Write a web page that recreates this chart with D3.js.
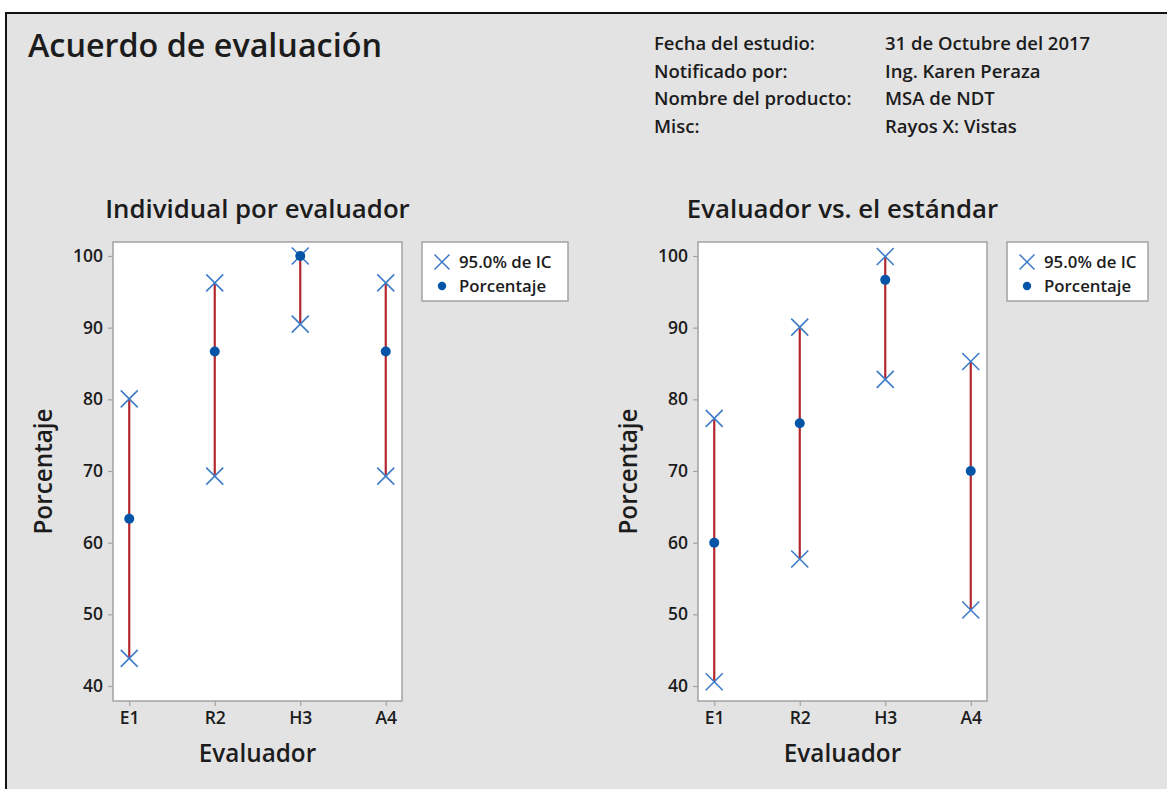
<!DOCTYPE html>
<html>
<head>
<meta charset="utf-8">
<script src="https://cdn.jsdelivr.net/npm/d3@7"></script>
<style>
  html, body { margin: 0; padding: 0; background: #ffffff; }
  svg { display: block; }
  text { font-family: "Open Sans", "Noto Sans", sans-serif; fill: #1c1c1c; font-weight: 600; }
</style>
</head>
<body>
<svg id="chart" width="1167" height="789"></svg>
<script>
// Attribute agreement analysis: 30 trials per appraiser
const appraisers = ["E1", "R2", "H3", "A4"];

// Within appraisers
const withinPct   = [63.33, 86.67, 100.0, 86.67];
const withinLower = [43.86, 69.28, 90.50, 69.28];
const withinUpper = [80.07, 96.24, 100.0, 96.24];

// Each appraiser vs standard
const vsStdPct   = [60.00, 76.67, 96.67, 70.00];
const vsStdLower = [40.60, 57.72, 82.78, 50.60];
const vsStdUpper = [77.34, 90.07, 99.92, 85.27];

const yTicks = [40, 50, 60, 70, 80, 90, 100];

const headerLabels = ["Fecha del estudio:", "Notificado por:", "Nombre del producto:", "Misc:"];
const headerValues = ["31 de Octubre del 2017", "Ing. Karen Peraza", "MSA de NDT", "Rayos X: Vistas"];

const legendLabels = ["95.0% de IC", "Porcentaje"];

const RED = "#b3262d", XBLUE = "#3f7cc8", DOT = "#0455a8";

const svg = d3.select("#chart");

// Page background with frame on top and left
svg.append("rect").attr("x", 6).attr("y", 13).attr("width", 1161).attr("height", 776).attr("fill", "#e3e3e3");
svg.append("line").attr("x1", 6).attr("x2", 1167).attr("y1", 13).attr("y2", 13).attr("stroke", "#111").attr("stroke-width", 2);
svg.append("line").attr("x1", 6).attr("x2", 6).attr("y1", 12).attr("y2", 789).attr("stroke", "#111").attr("stroke-width", 2);

svg.append("text").attr("x", 28).attr("y", 57).attr("font-size", 32.3).text("Acuerdo de evaluación");

const header = svg.append("g").attr("font-size", 18.5);
headerLabels.forEach((t, i) => {
  header.append("text").attr("x", 654).attr("y", 50 + i * 27.5).text(t);
  header.append("text").attr("x", 885).attr("y", 50 + i * 27.5).text(headerValues[i]);
});

function xMarker(g, cx, cy, s, sw) {
  g.append("path")
    .attr("d", `M${cx - s},${cy - s}L${cx + s},${cy + s}M${cx - s},${cy + s}L${cx + s},${cy - s}`)
    .attr("stroke", XBLUE).attr("stroke-width", sw).attr("fill", "none");
}

function panel(opts) {
  const { left, right, top, bottom, title, pct, lower, upper, legendX, legendW } = opts;
  const g = svg.append("g");

  const x = d3.scalePoint().domain(appraisers).range([left, right]).padding(0.19);
  const y = d3.scaleLinear().domain([37.91, 101.95]).range([bottom, top]);

  g.append("rect").attr("x", left).attr("y", top).attr("width", right - left).attr("height", bottom - top)
    .attr("fill", "#ffffff").attr("stroke", "#a3a3a3").attr("stroke-width", 1.5);

  const yAxis = g.append("g").attr("transform", `translate(${left},0)`)
    .call(d3.axisLeft(y).tickValues(yTicks).tickSize(5).tickPadding(5));
  const xAxis = g.append("g").attr("transform", `translate(0,${bottom})`)
    .call(d3.axisBottom(x).tickSize(5).tickPadding(6));
  [yAxis, xAxis].forEach(a => {
    a.select(".domain").remove();
    a.selectAll(".tick line").attr("stroke", "#a3a3a3").attr("stroke-width", 1.2);
    a.selectAll(".tick text").attr("font-size", 17.5).attr("fill", "#1c1c1c")
      .attr("font-family", "'Open Sans', sans-serif").attr("font-weight", 600);
  });

  // Confidence interval segments
  g.selectAll(".ci").data(appraisers).join("line")
    .attr("x1", d => x(d)).attr("x2", d => x(d))
    .attr("y1", (d, i) => y(lower[i])).attr("y2", (d, i) => y(upper[i]))
    .attr("stroke", RED).attr("stroke-width", 2.2);

  appraisers.forEach((d, i) => {
    xMarker(g, x(d), y(lower[i]), 8.5, 1.6);
    xMarker(g, x(d), y(upper[i]), 8.5, 1.6);
  });

  g.selectAll(".pt").data(appraisers).join("circle")
    .attr("cx", d => x(d)).attr("cy", (d, i) => y(pct[i])).attr("r", 5).attr("fill", DOT);

  // Titles
  const cx = (left + right) / 2;
  g.append("text").attr("x", cx).attr("y", 218).attr("text-anchor", "middle").attr("font-size", 25.8).text(title);
  g.append("text").attr("x", cx).attr("y", 762).attr("text-anchor", "middle").attr("font-size", 24.3).text("Evaluador");
  g.append("text").attr("transform", `translate(${left - 61},${(top + bottom) / 2}) rotate(-90)`)
    .attr("text-anchor", "middle").attr("font-size", 24.3).text("Porcentaje");

  // Legend
  const lg = g.append("g");
  lg.append("rect").attr("x", legendX).attr("y", 242).attr("width", legendW).attr("height", 59)
    .attr("fill", "#ffffff").attr("stroke", "#a3a3a3").attr("stroke-width", 1.5);
  xMarker(lg, legendX + 20, 262, 7.5, 1.5);
  lg.append("circle").attr("cx", legendX + 20).attr("cy", 286).attr("r", 4.2).attr("fill", DOT);
  legendLabels.forEach((t, i) => {
    lg.append("text").attr("x", legendX + 37).attr("y", 268 + i * 24).attr("font-size", 16.8).text(t);
  });
}

panel({ left: 113, right: 402, top: 242, bottom: 701, title: "Individual por evaluador",
  pct: withinPct, lower: withinLower, upper: withinUpper, legendX: 422, legendW: 146 });
panel({ left: 698, right: 987, top: 242, bottom: 701, title: "Evaluador vs. el estándar",
  pct: vsStdPct, lower: vsStdLower, upper: vsStdUpper, legendX: 1007, legendW: 141 });
</script>
</body>
</html>
